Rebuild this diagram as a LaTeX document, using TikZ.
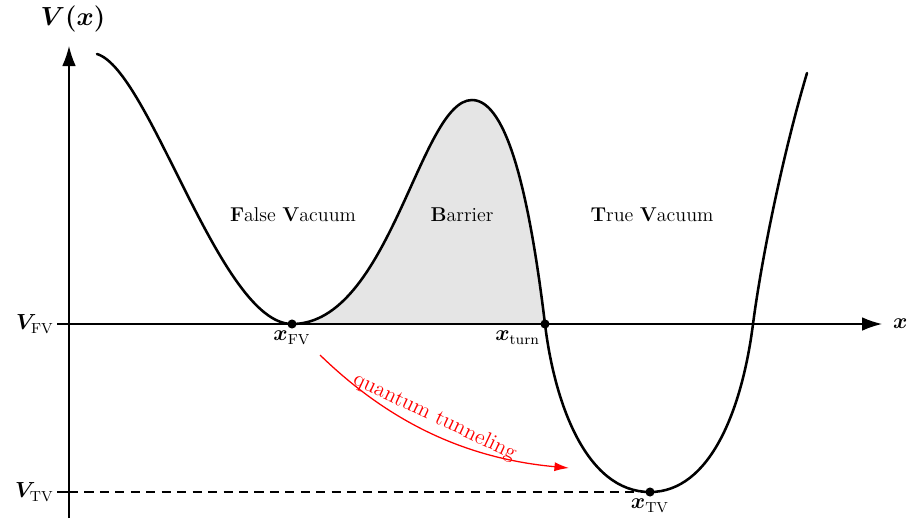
\documentclass[tikz,border=0pt]{standalone}
\usepackage{bm}
\usepackage{amsmath}
\usetikzlibrary{arrows.meta}
\begin{document}
\begin{tikzpicture}[x=0.55pt,y=-0.55pt,
  every node/.style={font=\fontsize{11}{13}\selectfont},
  axis/.style={line width=0.8pt,-{Latex[length=11pt,width=7.5pt]}},
  pot/.style={line width=1.4pt,line cap=round},
  dot/.style={circle,fill=black,inner sep=0pt,minimum size=5pt},
  lab/.style={inner sep=1pt,font=\fontsize{12}{14}\selectfont}]
\useasboundingbox (0,0) rectangle (910,518);
% shading
\fill[black!10] (292,324) .. controls (390,324) and (420,100) .. (472,100)
  .. controls (508,100) and (530,200) .. (545,324) -- cycle;
% axes
\coordinate (ybot) at (69,518);
\coordinate (ytop) at (69,46);
\coordinate (xl) at (57,324);
\coordinate (xr) at (882,324);
\draw[axis] (ybot) -- (ytop);
\draw[axis] (xl) -- (xr);
\node[lab,font=\fontsize{14}{16}\selectfont] (Vx) at (73,19) {$\bm{V(x)}$};
\node[lab,anchor=west] (xlab) at (891,324) {$\bm{x}$};
% points
\node[dot] (xfv) at (292,324) {};
\node[dot] (xturn) at (545,324) {};
\node[dot] (xtv) at (650,492) {};
% dashed level
\coordinate (tl) at (57,492);
\coordinate (ta) at (69,492);
\draw[line width=0.8pt] (tl) -- (ta);
\draw[line width=0.8pt,dashed,dash pattern=on 5pt off 3.5pt] (ta) -- (xtv.center);
% potential
\draw[pot] (97,54) .. controls (150,70) and (220,324) .. (xfv.center)
  .. controls (390,324) and (420,100) .. (472,100)
  .. controls (508,100) and (530,200) .. (xturn.center)
  .. controls (554,400) and (585,492) .. (xtv.center)
  .. controls (710,492) and (742,410) .. (753,324)
  .. controls (762,255) and (784,150) .. (807,73);
% labels
\node[lab,anchor=east] (vfv) at (56,324) {$\bm{V}_{\mathrm{FV}}$};
\node[lab,anchor=east] (vtv) at (56,492) {$\bm{V}_{\mathrm{TV}}$};
\node[lab,anchor=north] (lxfv) at (292,329) {$\bm{x}_{\mathrm{FV}}$};
\node[lab,anchor=north east] (lxturn) at (542,329) {$\bm{x}_{\text{turn}}$};
\node[lab,anchor=north] (lxtv) at (650,497) {$\bm{x}_{\mathrm{TV}}$};
\node (fvlab) at (293,215) {\textbf{F}alse \textbf{V}acuum};
\node (barlab) at (462,215) {\textbf{B}arrier};
\node (tvlab) at (652,215) {\textbf{T}rue \textbf{V}acuum};
% tunneling
\coordinate (ts) at (320,355);
\coordinate (te) at (569,468);
\draw[red,line width=0.7pt,-{Latex[length=8pt,width=5pt]}] (ts) .. controls (385,418) and (460,458) .. (te)
  node[pos=0.5,sloped,above,inner sep=3pt,font=\fontsize{12}{14}\selectfont] {quantum tunneling};
\end{tikzpicture}
\end{document}
